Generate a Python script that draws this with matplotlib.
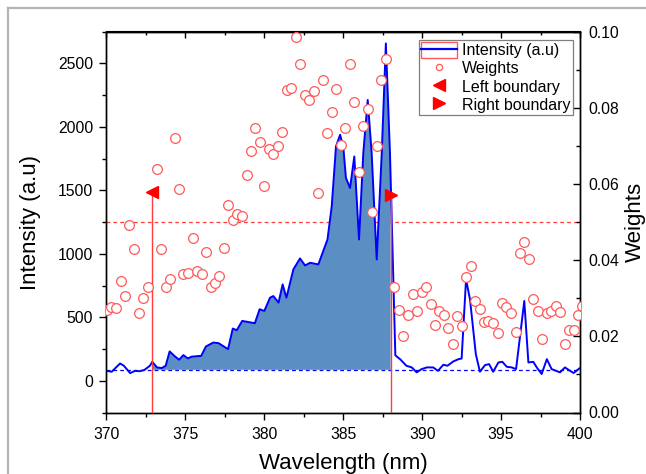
import numpy as np
import matplotlib
matplotlib.use('Agg')
import matplotlib.pyplot as plt
from matplotlib.ticker import MultipleLocator, FormatStrFormatter
from matplotlib.lines import Line2D
from matplotlib.patches import Patch
from matplotlib.transforms import blended_transform_factory

plt.rcParams['font.family'] = ['Liberation Sans', 'DejaVu Sans']

# ---- data ----
wavelength = [370.0, 370.33, 370.54, 370.86, 371.1, 371.5, 371.8, 372.1, 372.4, 372.75,
              372.9, 373.2, 373.5, 373.75, 374.0, 374.3, 374.6, 374.87, 375.15, 375.4,
              376.0, 376.3, 376.77, 377.1, 377.7, 378.0, 378.25, 378.6, 379.4, 379.7,
              380.0, 380.36, 380.57, 380.9, 381.16, 381.4, 381.84, 382.26, 382.58, 382.9,
              383.42, 384.0, 384.27, 384.54, 384.8, 385.0, 385.17, 385.43, 385.7, 386.0,
              386.27, 386.55, 386.8, 387.12, 387.44, 387.7, 387.96, 388.3, 388.6, 389.0,
              389.34, 389.65, 389.97, 390.3, 390.7, 391.0, 391.34, 391.6, 391.97, 392.3,
              392.5, 392.78, 393.03, 393.4, 393.66, 393.98, 394.24, 394.5, 394.83, 395.08,
              395.36, 395.67, 395.95, 396.47, 396.73, 397.04, 397.26, 397.57, 397.9, 398.2,
              398.73, 399.05, 399.37, 399.6, 399.96]
intensity = [78, 71, 97, 136, 118, 60, 78, 75, 85, 118,
             149, 105, 100, 118, 231, 196, 165, 202, 176, 190,
             196, 270, 301, 296, 249, 411, 398, 471, 453, 563,
             550, 654, 667, 615, 759, 654, 877, 963, 908, 929,
             916, 1112, 1374, 1845, 1937, 1845, 1597, 1518, 1766, 1112,
             1793, 2211, 1793, 955, 1795, 2656, 1793, 200, 170, 118,
             105, 66, 92, 105, 105, 78, 126, 118, 152, 170,
             175, 798, 641, 209, 71, 123, 131, 71, 144, 149,
             110, 105, 92, 628, 144, 149, 105, 53, 170, 92,
             66, 105, 78, 61, 97]

weight_wavelength = [370.01, 370.29, 370.60, 370.90, 371.17, 371.44, 371.74, 372.04, 372.33, 372.61,
                     373.18, 373.45, 373.75, 374.02, 374.34, 374.59, 374.87, 375.18, 375.46, 375.75,
                     376.03, 376.30, 376.60, 376.87, 377.15, 377.44, 377.72, 378.00, 378.29, 378.59,
                     378.88, 379.16, 379.43, 379.73, 380.00, 380.30, 380.57, 380.87, 381.14, 381.42,
                     381.69, 382.01, 382.28, 382.56, 382.85, 383.13, 383.42, 383.70, 383.99, 384.27,
                     384.56, 384.84, 385.11, 385.41, 385.68, 385.98, 386.27, 386.55, 386.84, 387.12,
                     387.39, 387.69, 388.24, 388.53, 388.81, 389.12, 389.40, 389.69, 389.97, 390.24,
                     390.54, 390.81, 391.09, 391.38, 391.66, 391.95, 392.23, 392.51, 392.80, 393.08,
                     393.37, 393.65, 393.92, 394.19, 394.49, 394.79, 395.06, 395.33, 395.63, 395.93,
                     396.20, 396.47, 396.77, 397.04, 397.32, 397.61, 397.89, 398.18, 398.46, 398.75,
                     399.03, 399.30, 399.60, 399.87, 400.10]
weights = [0.0269, 0.0276, 0.0275, 0.0346, 0.0306, 0.0491, 0.0429, 0.0262, 0.0300, 0.0330,
           0.0640, 0.0428, 0.0329, 0.0350, 0.0721, 0.0587, 0.0364, 0.0365, 0.0458, 0.0372,
           0.0364, 0.0420, 0.0330, 0.0339, 0.0358, 0.0431, 0.0545, 0.0505, 0.0520, 0.0516,
           0.0623, 0.0686, 0.0747, 0.0710, 0.0594, 0.0692, 0.0678, 0.0700, 0.0736, 0.0846,
           0.0851, 0.0986, 0.0914, 0.0833, 0.0820, 0.0845, 0.0575, 0.0872, 0.0734, 0.0790,
           0.0848, 0.0703, 0.0746, 0.0915, 0.0816, 0.0632, 0.0752, 0.0796, 0.0527, 0.0700,
           0.0873, 0.0927, 0.0330, 0.0268, 0.0201, 0.0255, 0.0311, 0.0266, 0.0315, 0.0329,
           0.0285, 0.0230, 0.0267, 0.0255, 0.0223, 0.0180, 0.0254, 0.0227, 0.0356, 0.0385,
           0.0293, 0.0271, 0.0238, 0.0241, 0.0234, 0.0208, 0.0287, 0.0276, 0.0260, 0.0211,
           0.0418, 0.0448, 0.0402, 0.0297, 0.0266, 0.0193, 0.0262, 0.0266, 0.0280, 0.0263,
           0.0180, 0.0217, 0.0217, 0.0256, 0.0280]

left_boundary = 372.9
right_boundary = 388.0
left_weight = 0.0579
right_weight = 0.0571
baseline_intensity = 86
weight_threshold = 0.05

xticks = [370, 375, 380, 385, 390, 395, 400]
yticks_left = [0, 500, 1000, 1500, 2000, 2500]
yticks_right = [0.00, 0.02, 0.04, 0.06, 0.08, 0.10]

# ---- styling ----
RED = '#ff3b3b'
CIRC = '#ff5a5a'
BLUE = '#0000ff'
FILL = '#5b8fc3'

fig = plt.figure(figsize=(6.46, 4.74), dpi=100)
ax = fig.add_axes([106.5 / 646, 1 - 412.5 / 474, 473.5 / 646, 381 / 474])
ax2 = ax.twinx()

wl = np.array(wavelength, dtype=float)
it = np.array(intensity, dtype=float)

# filled region between boundaries
inner = (wl > left_boundary) & (wl < right_boundary)
fx = np.concatenate([[left_boundary], wl[inner], [right_boundary]])
fy = np.interp(fx, wl, it)
ax.fill_between(fx, baseline_intensity, fy, facecolor=FILL, edgecolor='none', zorder=2)

# threshold dashed red line (behind fill)
trans = blended_transform_factory(ax.transAxes, ax2.transData)
ax.plot([0, 1], [weight_threshold, weight_threshold], transform=trans, color=RED,
        lw=0.9, ls=(0, (3, 2.5)), zorder=1)

ax.plot(wl, it, color=BLUE, lw=1.4, zorder=3)
ax.axhline(baseline_intensity, color=BLUE, lw=0.9, ls=(0, (3, 2.5)), zorder=4)

ax.set_xlim(370, 400)
ax.set_ylim(-250, 2750)
ax2.set_ylim(0, 0.10)

ax2.plot(weight_wavelength, weights, ls='none', marker='o', ms=7, mfc='white',
         mec=CIRC, mew=0.9, zorder=5)
ax2.vlines([left_boundary, right_boundary], 0, [left_weight, right_weight], color=RED, lw=1.0, zorder=4)
ax2.plot([left_boundary], [left_weight], ls='none', marker='<', ms=8, color='red', zorder=6)
ax2.plot([right_boundary], [right_weight], ls='none', marker='>', ms=8, color='red', zorder=6)

# ticks
ax.set_xticks(xticks)
ax.xaxis.set_minor_locator(MultipleLocator(2.5))
ax.set_yticks(yticks_left)
ax.yaxis.set_minor_locator(MultipleLocator(250))
ax.tick_params(axis='both', which='major', direction='out', length=5, width=1, labelsize=11.3)
ax.tick_params(axis='x', which='major', pad=5.5)
ax.tick_params(axis='y', which='major', pad=4.5)
ax.tick_params(axis='both', which='minor', direction='out', length=3, width=1)
ax.tick_params(top=False, right=False, which='both')

sec = ax.secondary_xaxis('top')
sec.set_xticks(xticks)
sec.xaxis.set_minor_locator(MultipleLocator(2.5))
sec.tick_params(axis='x', which='major', direction='in', length=5, width=1, labeltop=False)
sec.tick_params(axis='x', which='minor', direction='in', length=3, width=1)

ax2.set_yticks(yticks_right)
ax2.yaxis.set_minor_locator(MultipleLocator(0.01))
ax2.yaxis.set_major_formatter(FormatStrFormatter('%.2f'))
ax2.tick_params(axis='y', which='major', direction='in', length=5, width=1, labelsize=11.3, pad=6)
ax2.tick_params(axis='y', which='minor', direction='in', length=3, width=1)

for a in (ax, ax2):
    for s in a.spines.values():
        s.set_linewidth(1.0)

ax.set_xlabel('Wavelength (nm)', fontsize=16, labelpad=8)
ax.set_ylabel('Intensity (a.u)', fontsize=16, labelpad=12)
ax2.set_ylabel('Weights', fontsize=16, labelpad=4)

# legend
h_int = (Patch(facecolor='white', edgecolor=CIRC, lw=1.0), Line2D([], [], color=BLUE, lw=1.6))
h_w = Line2D([], [], ls='none', marker='o', ms=4.5, mfc='white', mec=CIRC, mew=0.9)
h_l = Line2D([], [], ls='none', marker='<', ms=8, color='red')
h_r = Line2D([], [], ls='none', marker='>', ms=8, color='red')
leg = ax2.legend([h_int, h_w, h_l, h_r],
                 ['Intensity (a.u)', 'Weights', 'Left boundary', 'Right boundary'],
                 loc='upper left', bbox_to_anchor=(418.5 / 646, 1 - 39.5 / 474),
                 bbox_transform=fig.transFigure, borderaxespad=0, fontsize=11.5,
                 frameon=True, fancybox=False, edgecolor='#7f7f7f', framealpha=1,
                 borderpad=0.15, labelspacing=0.12, handlelength=2.25, handleheight=1.15,
                 handletextpad=0.3)
leg.get_frame().set_linewidth(0.9)

# light grey outer frame
fig.add_artist(Line2D([8.3 / 646, 8.3 / 646], [0, 1 - 8.3 / 474], transform=fig.transFigure,
                      color='#b4b4b4', lw=1.6))
fig.add_artist(Line2D([8.3 / 646, 1], [1 - 8.3 / 474, 1 - 8.3 / 474], transform=fig.transFigure,
                      color='#b4b4b4', lw=1.6))

fig.savefig('out.png', dpi=100)
